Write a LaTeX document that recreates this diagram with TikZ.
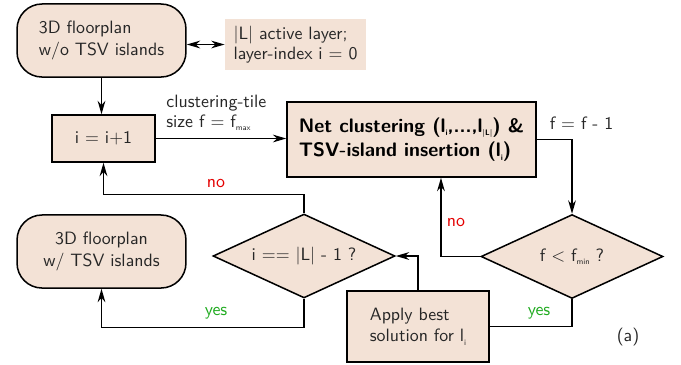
\documentclass[tikz,border=0pt]{standalone}
\usetikzlibrary{shapes.geometric,arrows.meta}
\definecolor{boxfill}{RGB}{243,226,214}
\definecolor{nored}{RGB}{228,0,0}
\definecolor{yesgreen}{RGB}{30,170,30}
% tiny lowered index, as in f_max or l_i
\newcommand\sbs[1]{\raisebox{-0.4ex}{\fontsize{4.5}{5}\selectfont #1}}
\begin{document}
\begin{tikzpicture}[x=0.56pt,y=-0.56pt,
  every node/.style={font=\sffamily, text=black!85},
  tip/.tip={Stealth[length=7.5pt,width=4.3pt,inset=2.4pt]},
  box/.style={draw, line width=0.85pt, fill=boxfill, inner sep=0pt},
  term/.style={box, rounded corners=14pt, minimum width=94.6pt, minimum height=40.9pt},
  decision/.style={diamond, draw, line width=0.85pt, fill=boxfill, inner sep=0pt,
    shape aspect=2.17, minimum width=101.9pt, minimum height=47pt},
  flow/.style={line width=0.85pt, -tip},
  link/.style={line width=0.85pt},
  lbl/.style={inner sep=0pt, align=left, font=\sffamily\fontsize{10}{11.3}\selectfont},
  nolbl/.style={inner sep=0pt, text=nored},
  yeslbl/.style={inner sep=0pt, text=yesgreen}]
\useasboundingbox (0,0) rectangle (681,364);

% process blocks
\node[term, align=left] (start) at (101.5,40.5) {3D floorplan\\w/o TSV islands};
\node[fill=boxfill, inner sep=0pt, minimum width=79pt, minimum height=28.6pt,
  align=left, font=\sffamily\fontsize{10}{11.4}\selectfont] (info) at (295.5,44.5)
  {|L| active layer;\\layer-index i = 0};
\node[box, minimum width=57.7pt, minimum height=26.3pt] (inc) at (103.5,138.5) {i = i+1};
\node[box, minimum width=139.4pt, minimum height=42pt, align=left, text=black,
  font=\sffamily\bfseries\fontsize{10.95}{13.6}\selectfont] (net) at (411.5,139.5)
  {Net clustering (l\sbs{i},...,l\sbs{|L|}) \&\\TSV-island insertion (l\sbs{i})};
\node[decision] (d1) at (304,256) {i == |L| - 1 ?};
\node[decision] (d2) at (572,256.5) {f < f\sbs{min} ?};
\node[term, align=center] (end) at (101.5,251.5) {3D floorplan\\w/ TSV islands};
\node[box, minimum width=79.5pt, minimum height=39.8pt, align=left] (apply) at (418,326.5)
  {Apply best\\solution for l\sbs{i}};

% connectors
\draw[flow] (start.south) -- (start.south |- inc.north);
\draw[line width=0.85pt, tip-tip] (info.west -| start.east) -- (info.west);
\draw[flow] (inc.east) -- (inc.east -| net.west);
\draw[flow] (net.east) -| (d2.north);
\draw[flow] (d2.west) -| ([xshift=16.5pt]net.south);
\draw[link] (d2.south) |- (apply.east);
\draw[flow] (apply.north) |- (d1.east);
\draw[flow] (d1.north) -- ++(0,-19) -| (inc.south);
\draw[flow] (d1.south) -- ++(0,29) -| (end.south);

% labels
\node[lbl, anchor=west] (tile) at (166,113) {clustering-tile\\size f = f\sbs{max}};
\node[lbl] (fdec) at (581.5,123) {f = f - 1};
\node[nolbl] (no1) at (216,183) {no};
\node[nolbl] (no2) at (456,222) {no};
\node[yeslbl] (yes1) at (216,313) {yes};
\node[yeslbl] (yes2) at (539,313) {yes};
\node[lbl] (tag) at (628,337) {(a)};
\end{tikzpicture}
\end{document}
